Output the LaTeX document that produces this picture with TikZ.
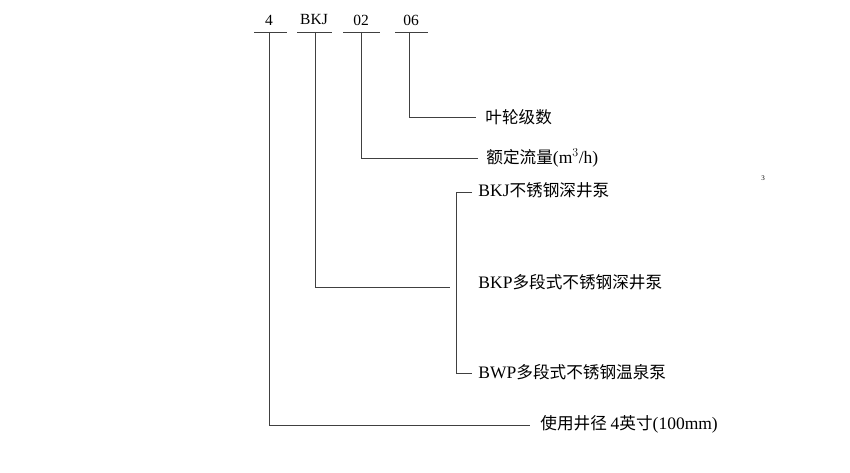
\documentclass[tikz,border=0pt]{standalone}
\usepackage{fontspec}
\setmainfont{Liberation Serif}
\newfontfamily\cjk{Noto Sans CJK SC}[Scale=0.95]
\begin{document}
\begin{tikzpicture}[x=1pt,y=-1pt,line width=0.9pt,draw=black!75,
  lbl/.style={anchor=west,inner sep=0pt,font=\fontsize{17.5}{20}\selectfont},
  top/.style={inner sep=0pt,font=\fontsize{15.5}{18}\selectfont}]
\useasboundingbox (0,0) rectangle (850,473);
\node[top] (t4) at (269,20) {4};
\node[top] (tb) at (314,20) {BKJ};
\node[top] (t2) at (361,20) {02};
\node[top] (t6) at (411,20) {06};
\draw (254,32) -- (287,32) (297,32) -- (332,32) (343,32) -- (380,32) (395,32) -- (428,32);
\coordinate (c4) at (269,32); \coordinate (cb) at (315,32);
\coordinate (c2) at (361,32); \coordinate (c6) at (409,32);
\node[lbl] (l1) at (485,117) {\cjk 叶轮级数};
\node[lbl] (l2) at (486,158) {\cjk 额定流量\rmfamily(m$^{3}$/h)};
\node[lbl] (l3) at (478,190) {BKJ\cjk 不锈钢深井泵};
\node[lbl] (l4) at (478,282) {BKP\cjk 多段式不锈钢深井泵};
\node[lbl] (l5) at (478,372) {BWP\cjk 多段式不锈钢温泉泵};
\node[lbl] (l6) at (540,424) {\cjk 使用井径 \rmfamily 4\cjk 英寸\rmfamily(100mm)};
\node[inner sep=0pt,font=\scriptsize] (n3) at (763,178) {3};
\draw (c6) |- (476,117);
\draw (c2) |- (478,158);
\draw (cb) |- (450,287);
\draw (472,192) -- (456,192) -- (456,373) -- (472,373);
\draw (c4) |- (530,425);
\end{tikzpicture}
\end{document}
